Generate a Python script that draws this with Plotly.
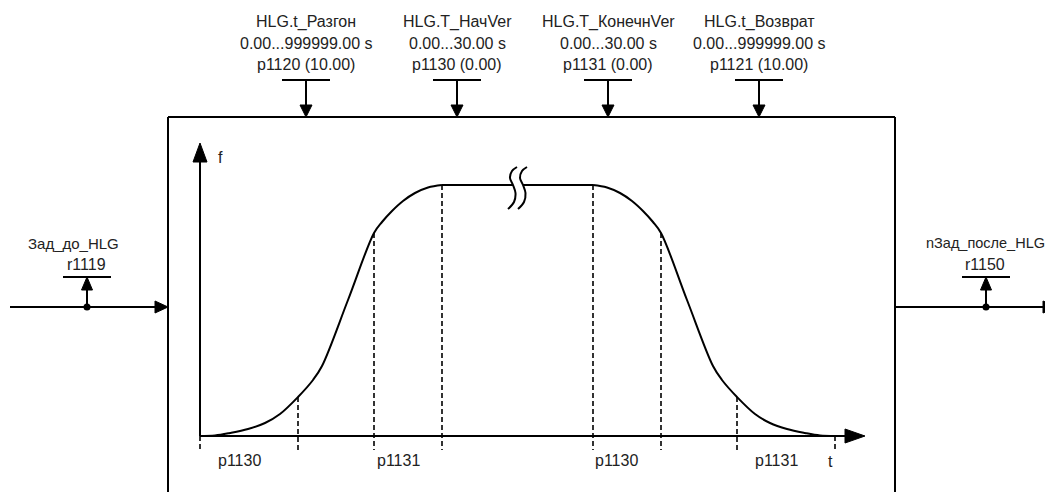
import plotly.graph_objects as go

W, H = 1053, 492
PAGE_MARGIN = 8  # default body margin of the html page

# ---------------- data ----------------
param_names = ["HLG.t_Разгон", "HLG.T_НачVer", "HLG.T_КонечнVer", "HLG.t_Возврат"]
param_ranges = ["0.00...999999.00 s", "0.00...30.00 s", "0.00...30.00 s", "0.00...999999.00 s"]
param_ids = ["p1120 (10.00)", "p1130 (0.00)", "p1131 (0.00)", "p1121 (10.00)"]
param_x = [306, 457, 608, 759]

input_name, input_param = "Зад_до_HLG", "r1119"
output_name, output_param = "nЗад_после_HLG", "r1150"

# ramp-function generator curve (t, f) in diagram units
ramp_up_t = [200, 215, 230, 248, 265, 280, 298, 313, 322, 348, 374, 382, 392, 403, 415, 428, 442]
ramp_up_f = [436, 435.5, 433, 429, 423, 414, 397, 380, 366, 300, 233, 222, 211, 201, 193, 187.5, 185]
ramp_down_t = [593, 607, 620, 632, 643, 653, 661, 687, 713, 722, 737, 755, 770, 787, 805, 820, 835]
ramp_down_f = [185, 187.5, 193, 201, 211, 222, 233, 300, 366, 380, 397, 414, 423, 429, 433, 435.5, 436]
plateau_left_t = [442, 513]
plateau_right_t = [523, 593]
plateau_f = [185, 185]
break_left_t = [517, 512, 510, 513, 515.5, 514, 508]
break_right_t = [527, 522, 520, 523, 525.5, 524, 518]
break_f = [167, 171, 178, 185, 193, 202, 209]

marker_t = [200, 298, 374, 442, 593, 661, 737, 835]
marker_f_top = [436, 397, 233, 185, 185, 233, 397, 436]
marker_labels = ["p1130", "p1131", "p1130", "p1131"]
marker_label_t = [216, 375, 593, 753]

# ---------------- layout geometry ----------------
BOX_L, BOX_R, BOX_T = 168, 895, 117
AX_X0, AX_Y0 = 200, 436
AX_X_END, AX_Y_END = 865, 143
SIG_Y = 307
BAR_Y = 277
IN_DOT, OUT_DOT = 87, 986
FONT = dict(family="Liberation Sans, Arial, sans-serif", size=16, color="#222222")
LW = 2

shapes = []
annotations = []


def line(x0, y0, x1, y1, w=LW, dash=None):
    d = dict(type="line", xref="x", yref="y", x0=x0, y0=y0, x1=x1, y1=y1,
             line=dict(color="black", width=w))
    if dash:
        d["line"]["dash"] = dash
    shapes.append(d)


def tri(pts):
    p = "M " + " L ".join(f"{x},{y}" for x, y in pts) + " Z"
    shapes.append(dict(type="path", xref="x", yref="y", path=p,
                       fillcolor="black", line=dict(color="black", width=1)))


def text(x, y, s, anchor="center", size=16):
    f = dict(FONT)
    f["size"] = size
    annotations.append(dict(x=x, y=y, xref="x", yref="y", text=s, showarrow=False,
                            xanchor=anchor, yanchor="middle", font=f))


# block box
line(BOX_L, BOX_T, BOX_R, BOX_T)
line(BOX_L, BOX_T, BOX_L, H + 5)
line(BOX_R, BOX_T, BOX_R, H + 5)

# parameter inputs on top
for x, n, r, p in zip(param_x, param_names, param_ranges, param_ids):
    text(x, 22, n)
    text(x, 43, r)
    text(x, 64, p)
    line(x - 24, 80, x + 24, 80)
    line(x, 80, x, 106)
    tri([(x - 6, 105), (x + 6, 105), (x, BOX_T)])

# input signal
line(10, SIG_Y, 156, SIG_Y)
tri([(155, SIG_Y - 6), (155, SIG_Y + 6), (BOX_L, SIG_Y)])
line(IN_DOT - 24, BAR_Y, IN_DOT + 24, BAR_Y)
line(IN_DOT, SIG_Y, IN_DOT, 288)
tri([(IN_DOT - 5.5, 290), (IN_DOT + 5.5, 290), (IN_DOT, BAR_Y)])
text(73, 243, input_name, size=15)
text(IN_DOT - 1, 264, input_param)

# output signal
line(BOX_R, SIG_Y, 1044, SIG_Y)
tri([(1043, SIG_Y - 6), (1043, SIG_Y + 6), (1058, SIG_Y)])
line(OUT_DOT - 24, BAR_Y, OUT_DOT + 24, BAR_Y)
line(OUT_DOT, SIG_Y, OUT_DOT, 288)
tri([(OUT_DOT - 5.5, 290), (OUT_DOT + 5.5, 290), (OUT_DOT, BAR_Y)])
text(OUT_DOT - 1, 243, output_name, size=14.5)
text(OUT_DOT - 1, 264, output_param)

# inner axes
line(AX_X0, AX_Y0, AX_X0, 160)
tri([(AX_X0 - 7, 162), (AX_X0 + 7, 162), (AX_X0, AX_Y_END)])
line(AX_X0, AX_Y0, 847, AX_Y0)
tri([(845, AX_Y0 - 7), (845, AX_Y0 + 7), (AX_X_END, AX_Y0)])
text(220, 157, "f")
text(830, 461, "t")

# dashed markers
for t, top in zip(marker_t, marker_f_top):
    line(t, top, t, 450, w=1.6, dash="5px,3px")
for t, lab in zip(marker_label_t, marker_labels):
    text(t, 460, lab, anchor="left")

fig = go.Figure()
curve = dict(mode="lines", line=dict(color="black", width=2), hoverinfo="skip", showlegend=False)
fig.add_trace(go.Scatter(x=ramp_up_t, y=ramp_up_f, line_shape="spline", **curve))
fig.add_trace(go.Scatter(x=plateau_left_t, y=plateau_f, **curve))
fig.add_trace(go.Scatter(x=plateau_right_t, y=plateau_f, **curve))
fig.add_trace(go.Scatter(x=ramp_down_t, y=ramp_down_f, line_shape="spline", **curve))
fig.add_trace(go.Scatter(x=break_left_t, y=break_f, line_shape="spline", **curve))
fig.add_trace(go.Scatter(x=break_right_t, y=break_f, line_shape="spline", **curve))
fig.add_trace(go.Scatter(x=[IN_DOT, OUT_DOT], y=[SIG_Y, SIG_Y], mode="markers",
                         marker=dict(color="black", size=7), hoverinfo="skip", showlegend=False))

fig.update_layout(
    width=W - PAGE_MARGIN, height=H - PAGE_MARGIN, margin=dict(l=0, r=0, t=0, b=0),
    paper_bgcolor="white", plot_bgcolor="white",
    xaxis=dict(range=[PAGE_MARGIN, W], visible=False, fixedrange=True),
    yaxis=dict(range=[H, PAGE_MARGIN], visible=False, fixedrange=True),
    shapes=shapes, annotations=annotations, showlegend=False,
)
fig.write_html("out.html")
